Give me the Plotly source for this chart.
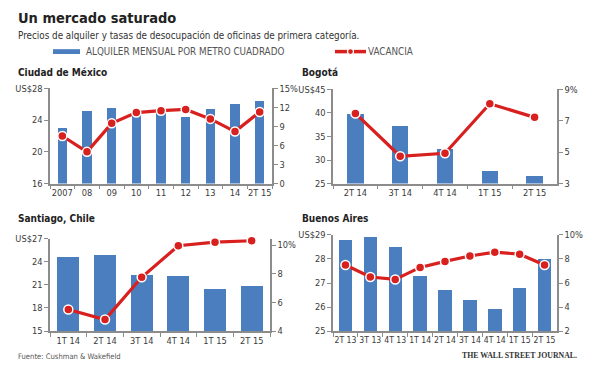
import plotly.graph_objects as go

# ---------------- data ----------------
mx_cats = ["2007", "08", "09", "10", "11", "12", "13", "14", "2T 15"]
mx_rent = [23.0, 25.1, 25.5, 24.8, 25.3, 24.3, 25.4, 26.0, 26.3]
mx_vac = [7.5, 5.0, 9.5, 11.2, 11.5, 11.7, 10.2, 8.2, 11.3]

bg_cats = ["2T 14", "3T 14", "4T 14", "1T 15", "2T 15"]
bg_rent = [39.6, 37.2, 32.2, 27.5, 26.6]
bg_vac = [7.47, 4.74, 4.93, 8.09, 7.22]

st_cats = ["1T 14", "2T 14", "3T 14", "4T 14", "1T 15", "2T 15"]
st_rent = [24.7, 24.9, 22.3, 22.2, 20.5, 20.85]
st_vac = [5.5, 4.8, 7.75, 9.95, 10.2, 10.3]

ba_cats = ["2T 13", "3T 13", "4T 13", "1T 14", "2T 14", "3T 14", "4T 14", "1T 15", "2T 15"]
ba_rent = [28.8, 28.9, 28.5, 27.3, 26.7, 26.3, 25.9, 26.8, 28.0]
ba_vac = [7.5, 6.5, 6.3, 7.3, 7.8, 8.25, 8.57, 8.4, 7.5]

mx_lt = [16, 20, 24, 28]; mx_ltt = ["16", "20", "24", "US$28"]
mx_rt = [0, 3, 6, 9, 12, 15]; mx_rtt = ["0", "3", "6", "9", "12", "15%"]
bg_lt = [25, 30, 35, 40, 45]; bg_ltt = ["25", "30", "35", "40", "US$45"]
bg_rt = [3, 5, 7, 9]; bg_rtt = ["3", "5", "7", "9%"]
st_lt = [15, 18, 21, 24, 27]; st_ltt = ["15", "18", "21", "24", "US$27"]
st_rt = [4, 6, 8, 10]; st_rtt = ["4", "6", "8", "10%"]
ba_lt = [25, 26, 27, 28, 29]; ba_ltt = ["25", "26", "27", "28", "US$29"]
ba_rt = [2, 4, 6, 8, 10]; ba_rtt = ["2", "4", "6", "8", "10%"]

# ---------------- style ----------------
W, H = 600, 370
BLUE = "#4a7ebf"
RED = "#d8201f"
AXC = "#8c8c8c"
TXT = "#3a3a3a"
FONT = "DejaVu Sans Condensed, DejaVu Sans, sans-serif"


def px(x):
    return x / W


def py(y):
    return 1 - y / H


panels = [
    (mx_cats, mx_rent, mx_vac, (mx_lt, mx_ltt), (mx_rt, mx_rtt), [16, 28], [0, 15], (50, 272), (85, 183), 0.37, 9.2),
    (bg_cats, bg_rent, bg_vac, (bg_lt, bg_ltt), (bg_rt, bg_rtt), [25, 45], [3, 9], (333, 557), (86, 183), 0.37, 9.2),
    (st_cats, st_rent, st_vac, (st_lt, st_ltt), (st_rt, st_rtt), [15, 27], [4, 10.43], (50, 270), (240, 335), 0.6, 9.2),
    (ba_cats, ba_rent, ba_vac, (ba_lt, ba_ltt), (ba_rt, ba_rtt), [25, 29], [2, 10], (333, 557), (236, 335), 0.54, 8.6),
]

fig = go.Figure()
layout = {}

for i, (cats, rent, vac, lt, rt, lr, rr, xd, yd, bw, xfs) in enumerate(panels):
    tickfont = dict(family=FONT, size=9.2, color=TXT)
    xtickfont = dict(family=FONT, size=xfs, color=TXT)
    xn = "x" if i == 0 else f"x{i+1}"
    yl = "y" if i == 0 else f"y{2*i+1}"
    yr = f"y{2*i+2}"
    fig.add_trace(go.Bar(x=cats, y=rent, marker=dict(color=BLUE, line=dict(width=0)),
                         width=bw, xaxis=xn, yaxis=yl, showlegend=False))
    fig.add_trace(go.Scatter(x=cats, y=vac, mode="lines+markers",
                             line=dict(color=RED, width=3.2),
                             marker=dict(size=9, color=RED, line=dict(color="white", width=1.5)),
                             xaxis=xn, yaxis=yr, showlegend=False, cliponaxis=False))
    xkey = "xaxis" if i == 0 else f"xaxis{i+1}"
    ylkey = "yaxis" if i == 0 else f"yaxis{2*i+1}"
    yrkey = f"yaxis{2*i+2}"
    layout[xkey] = dict(domain=[px(xd[0]), px(xd[1])], anchor=yl, type="category",
                        range=[-0.5, len(cats) - 0.5], tickson="boundaries", tickangle=0,
                        ticks="outside", ticklen=4, tickcolor=AXC, tickwidth=1.2,
                        showline=True, linecolor=AXC, linewidth=1.5,
                        showgrid=False, zeroline=False, tickfont=xtickfont, fixedrange=True)
    layout[ylkey] = dict(domain=[py(yd[1]), py(yd[0])], anchor=xn, range=lr,
                         tickvals=lt[0], ticktext=lt[1], ticks="outside", ticklen=4,
                         tickcolor=AXC, tickwidth=1.2, showline=True, linecolor=AXC,
                         linewidth=1.5, showgrid=False, zeroline=False, tickfont=tickfont)
    layout[yrkey] = dict(overlaying=yl, anchor=xn, side="right", range=rr,
                         tickvals=rt[0], ticktext=rt[1], ticks="outside", ticklen=4,
                         tickcolor=AXC, tickwidth=1.2, showline=True, linecolor=AXC,
                         linewidth=1.5, showgrid=False, zeroline=False, tickfont=tickfont)

annotations = [
    dict(text="<b>Un mercado saturado</b>", x=px(16), y=py(12), xanchor="left", yanchor="middle",
         font=dict(family=FONT, size=14.5, color="#222")),
    dict(text="Precios de alquiler y tasas de desocupación de oficinas de primera categoría.",
         x=px(16), y=py(30), xanchor="left", yanchor="middle",
         font=dict(family=FONT, size=9.8, color="#333")),
    dict(text="ALQUILER MENSUAL POR METRO CUADRADO", x=px(84), y=py(47), xanchor="left", yanchor="middle",
         font=dict(family=FONT, size=9.8, color="#555")),
    dict(text="VACANCIA", x=px(366), y=py(47), xanchor="left", yanchor="middle",
         font=dict(family=FONT, size=9.8, color="#555")),
    dict(text="<b>Ciudad de México</b>", x=px(16), y=py(69), xanchor="left", yanchor="middle",
         font=dict(family=FONT, size=10, color="#222")),
    dict(text="<b>Bogotá</b>", x=px(300), y=py(69), xanchor="left", yanchor="middle",
         font=dict(family=FONT, size=10, color="#222")),
    dict(text="<b>Santiago, Chile</b>", x=px(16), y=py(219), xanchor="left", yanchor="middle",
         font=dict(family=FONT, size=10, color="#222")),
    dict(text="<b>Buenos Aires</b>", x=px(300), y=py(219), xanchor="left", yanchor="middle",
         font=dict(family=FONT, size=10, color="#222")),
    dict(text="Fuente: Cushman & Wakefield", x=px(16), y=py(361), xanchor="left", yanchor="middle",
         font=dict(family=FONT, size=7.6, color="#555")),
    dict(text="<b>THE WALL STREET JOURNAL.</b>", x=px(579), y=py(360), xanchor="right", yanchor="middle",
         font=dict(family="Liberation Serif, DejaVu Serif, serif", size=7.8, color="#333")),
]
for a in annotations:
    a.update(xref="paper", yref="paper", showarrow=False)

shapes = [
    dict(type="rect", xref="paper", yref="paper", x0=px(53), x1=px(80), y0=py(49.5), y1=py(44.5),
         fillcolor=BLUE, line=dict(width=0)),
    dict(type="line", xref="paper", yref="paper", x0=px(335), x1=px(366), y0=py(47), y1=py(47),
         line=dict(color=RED, width=3.5)),
    dict(type="circle", xref="paper", yref="paper", x0=px(347.5), x1=px(353.5), y0=py(50), y1=py(44),
         fillcolor=RED, line=dict(color="white", width=1.2)),
]

fig.update_layout(width=W, height=H, margin=dict(l=0, r=0, t=0, b=0), autosize=False,
                  paper_bgcolor="white", plot_bgcolor="white", showlegend=False,
                  annotations=annotations, shapes=shapes, bargap=0, **layout)

fig.write_html("out.html", config={"displayModeBar": False},
               post_script="document.body.style.margin='0px';document.body.style.overflow='hidden';")
